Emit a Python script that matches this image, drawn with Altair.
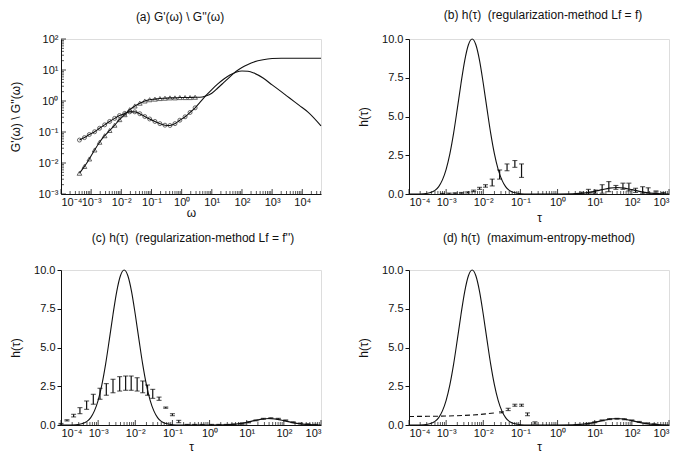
import json
import altair as alt
import numpy as np
import pandas as pd

FONT = "Liberation Sans"
INK = "#111111"

# ---------------- panel (a): G'(w), G''(w) ----------------
OMEGA_MARK = [4.1e-4, 6.0e-4, 8.7e-4, 1.3e-3, 1.9e-3, 2.8e-3, 4.1e-3, 6.0e-3, 8.7e-3,
              1.3e-2, 1.9e-2, 2.8e-2, 4.1e-2, 6.0e-2, 8.7e-2, 0.13, 0.19, 0.28, 0.41,
              0.60, 0.87, 1.3, 1.9, 2.8]
G1_MARK = [0.00468, 0.00776, 0.0135, 0.0263, 0.0468, 0.0759, 0.112, 0.166, 0.251,
           0.363, 0.525, 0.692, 0.851, 1.0, 1.10, 1.15, 1.20, 1.23, 1.26, 1.26,
           1.29, 1.29, 1.29, 1.32]
G2_MARK = [0.055, 0.066, 0.083, 0.102, 0.132, 0.170, 0.219, 0.275, 0.339, 0.398,
           0.447, 0.447, 0.389, 0.316, 0.263, 0.219, 0.186, 0.166, 0.162, 0.186,
           0.240, 0.309, 0.427, 0.603]
OMEGA_EXT = [3.98, 6.31, 10.0, 15.8, 25.1, 39.8, 63.1, 100, 158, 251, 501, 1000,
             2000, 3980, 7940, 15800, 41700]
G1_EXT = [1.32, 1.45, 1.78, 2.63, 3.98, 6.03, 8.91, 12.0, 15.1, 18.2, 21.4, 23.4,
          24.0, 24.0, 24.0, 24.0, 24.0]
G2_EXT = [0.89, 1.48, 2.34, 3.55, 5.13, 6.92, 8.51, 9.33, 9.12, 7.94, 5.50, 3.31,
          2.0, 1.20, 0.72, 0.43, 0.158]
OMEGA_DOMAIN = [1e-4, 4.17e4]
G_DOMAIN = [1e-3, 1e2]
OMEGA_DECADES = [1e-4, 1e-3, 1e-2, 1e-1, 1e0, 1e1, 1e2, 1e3, 1e4]
OMEGA_LABELS = ["10⁻⁴", "10⁻³", "10⁻²", "10⁻¹", "10⁰", "10¹", "10²", "10³", "10⁴"]
G_DECADES = [1e-3, 1e-2, 1e-1, 1e0, 1e1, 1e2]
G_LABELS = ["10⁻³", "10⁻²", "10⁻¹", "10⁰", "10¹", "10²"]

# ---------------- true spectrum h(tau) ----------------
LOGTAU_TRUE = [-4.0, -3.8, -3.6, -3.5, -3.4, -3.3, -3.2, -3.1, -3.0, -2.9, -2.8, -2.7,
               -2.6, -2.5, -2.4, -2.3, -2.2, -2.1, -2.0, -1.9, -1.8, -1.7, -1.6, -1.5,
               -1.4, -1.3, -1.2, -1.0, -0.8, 0.0, 0.4, 0.6, 0.8, 1.0, 1.2, 1.4, 1.6,
               1.8, 2.0, 2.2, 2.4, 2.6, 2.8, 3.0]
H_TRUE = [0.0, 0.0, 0.02, 0.05, 0.11, 0.23, 0.48, 0.91, 1.59, 2.59, 3.91, 5.49,
          7.13, 8.61, 9.63, 10.0, 9.63, 8.61, 7.13, 5.49, 3.91, 2.59, 1.59, 0.91,
          0.48, 0.23, 0.11, 0.02, 0.0, 0.0, 0.01, 0.04, 0.09, 0.17, 0.28, 0.38, 0.42,
          0.38, 0.28, 0.17, 0.09, 0.04, 0.01, 0.0]
TAU_DOMAIN = [1e-4, 1e3]
TAU_DECADES = [1e-4, 1e-3, 1e-2, 1e-1, 1e0, 1e1, 1e2, 1e3]
TAU_LABELS = ["10⁻⁴", "10⁻³", "10⁻²", "10⁻¹", "10⁰", "10¹", "10²", "10³"]
H_TICKS = [0, 2.5, 5, 7.5, 10]

# (b) regularization Lf = f
B_LOGTAU = [-3.1, -2.92, -2.76, -2.59, -2.42, -2.26, -2.10, -1.94, -1.76, -1.56, -1.36,
            -1.15, -0.97, 0.65, 0.83, 1.02, 1.2, 1.38, 1.57, 1.76, 1.92, 2.1, 2.29,
            2.44, 2.65, 2.85]
B_LO = [0.0, 0.0, 0.02, 0.04, 0.06, 0.15, 0.30, 0.44, 0.52, 0.96, 1.50, 1.72, 1.07,
        0.0, 0.0, 0.05, 0.05, 0.15, 0.3, 0.3, 0.2, 0.1, 0.05, 0.05, 0.0, 0.0]
B_HI = [0.04, 0.06, 0.08, 0.10, 0.14, 0.25, 0.43, 0.60, 0.96, 1.55, 1.94, 2.16, 1.94,
        0.12, 0.3, 0.25, 0.6, 0.8, 0.55, 0.7, 0.7, 0.37, 0.47, 0.4, 0.2, 0.1]

# (c) regularization Lf = f''
C_LOGTAU = [-4.0, -3.84, -3.66, -3.49, -3.31, -3.13, -2.95, -2.78, -2.6, -2.42, -2.26,
            -2.11, -1.95, -1.8, -1.67, -1.53, -1.36, -1.18, -1.0, -0.83,
            -0.6, -0.4, -0.2, 0.05, 0.25, 0.45, 0.65, 0.85, 1.05, 1.25, 1.45, 1.65,
            1.85, 2.05, 2.25, 2.45, 2.65, 2.85]
C_LO = [0.0, 0.26, 0.52, 0.73, 1.01, 1.34, 1.66, 1.92, 2.08, 2.19, 2.24, 2.24, 2.19,
        2.08, 1.92, 1.72, 1.59, 1.08, 0.60, 0.15,
        0.0, 0.0, 0.0, 0.0, 0.0, 0.0, 0.0, 0.05, 0.14, 0.27, 0.37, 0.41, 0.37, 0.27,
        0.15, 0.07, 0.02, 0.0]
C_HI = [0.1, 0.34, 0.69, 1.12, 1.55, 1.98, 2.37, 2.67, 2.95, 3.12, 3.16, 3.16, 3.05,
        2.84, 2.58, 2.30, 1.80, 1.16, 0.73, 0.30,
        0.04, 0.04, 0.04, 0.04, 0.04, 0.04, 0.06, 0.11, 0.20, 0.33, 0.43, 0.47, 0.43,
        0.33, 0.21, 0.13, 0.08, 0.05]

# (d) maximum entropy
D_DASH_LOGTAU = [-4.0, -3.5, -3.0, -2.5, -2.0, -1.7]
D_DASH_H = [0.55, 0.56, 0.58, 0.62, 0.70, 0.78]
D_LOGTAU = [-1.51, -1.33, -1.15, -0.97, -0.81, -0.61, 0.8, 1.0, 1.2, 1.4, 1.6, 1.8,
            2.0, 2.2, 2.4, 2.6]
D_LO = [0.78, 0.93, 1.21, 1.21, 0.60, 0.06, 0.05, 0.15, 0.27, 0.35, 0.37, 0.34, 0.27,
        0.17, 0.08, 0.02]
D_HI = [0.86, 1.08, 1.34, 1.34, 0.78, 0.20, 0.11, 0.21, 0.33, 0.41, 0.43, 0.40, 0.33,
        0.23, 0.14, 0.08]

W, H = 260, 155


def label_expr(labels, offset):
    return f"{json.dumps(labels, ensure_ascii=False)}[round(log(datum.value)/LN10)+{offset}]"


def minor_ticks(decades, hi):
    return [m * d for d in decades for m in range(2, 10) if m * d <= hi]


def x_axis(values, labels, offset, title, title_y):
    return alt.Axis(values=values, labelExpr=label_expr(labels, offset), ticks=False,
                    grid=False, domainColor=INK, domainWidth=1, labelFont=FONT,
                    labelFontSize=11, labelColor=INK, labelPadding=2, labelOverlap=False,
                    title=title, titleFont=FONT, titleFontSize=12, titleFontWeight="normal",
                    titleColor=INK, titleY=title_y, titleBaseline="top")


def y_axis_h():
    return alt.Axis(values=H_TICKS, format=".1f", ticks=True, tickSize=4, tickColor=INK,
                    grid=False, domainColor=INK, domainWidth=1, labelFont=FONT,
                    labelFontSize=11, labelColor=INK, labelPadding=2, title="h(τ)",
                    titleFont=FONT, titleFontSize=12, titleFontWeight="normal",
                    titleColor=INK, titleX=-46, titleBaseline="middle")


def x_tick_layers(X, decades, minors):
    maj = alt.Chart(pd.DataFrame({"x": decades})).mark_rule(color=INK, strokeWidth=0.8).encode(
        x=X, y=alt.value(H), y2=alt.value(H - 5))
    mnr = alt.Chart(pd.DataFrame({"x": minors})).mark_rule(color=INK, strokeWidth=0.7).encode(
        x=X, y=alt.value(H), y2=alt.value(H - 3))
    return [maj, mnr]


def error_layers(X, yscale, yaxis, logtau, lo, hi):
    df = pd.DataFrame({"x": 10 ** np.array(logtau), "lo": lo, "hi": hi})
    ylo = alt.Y("lo:Q", scale=yscale, axis=yaxis)
    yhi = alt.Y("hi:Q", scale=yscale, axis=yaxis)
    rule = alt.Chart(df).mark_rule(color=INK, strokeWidth=1.2).encode(x=X, y=ylo, y2="hi:Q")
    c1 = alt.Chart(df).mark_tick(orient="horizontal", size=5, thickness=1.1, color=INK).encode(x=X, y=ylo)
    c2 = alt.Chart(df).mark_tick(orient="horizontal", size=5, thickness=1.1, color=INK).encode(x=X, y=yhi)
    return [rule, c1, c2]


def title(text, offset, dx=0):
    return alt.TitleParams(text=text, font=FONT, fontSize=12, fontWeight="normal",
                           color=INK, offset=offset, dx=dx, anchor="middle", frame="group")


# ---------- panel (a) ----------
xs_a = alt.Scale(type="log", domain=OMEGA_DOMAIN, nice=False)
ys_a = alt.Scale(type="log", domain=G_DOMAIN, nice=False)
Xa = alt.X("x:Q", scale=xs_a, axis=x_axis(OMEGA_DECADES, OMEGA_LABELS, 4, "ω", 13))
ya_axis = alt.Axis(values=G_DECADES, labelExpr=label_expr(G_LABELS, 3), ticks=False, grid=False,
                   domainColor=INK, domainWidth=1, labelFont=FONT, labelFontSize=11,
                   labelColor=INK, labelPadding=3, labelOverlap=False,
                   title="G'(ω) \\ G''(ω)", titleFont=FONT, titleFontSize=12,
                   titleFontWeight="normal", titleColor=INK, titleX=-46, titleBaseline="middle")
Ya = alt.Y("y:Q", scale=ys_a, axis=ya_axis)

g1_line = pd.DataFrame({"x": OMEGA_MARK + OMEGA_EXT, "y": G1_MARK + G1_EXT})
g2_line = pd.DataFrame({"x": OMEGA_MARK + OMEGA_EXT, "y": G2_MARK + G2_EXT})
g1_pts = pd.DataFrame({"x": OMEGA_MARK, "y": G1_MARK})
g2_pts = pd.DataFrame({"x": OMEGA_MARK, "y": G2_MARK})

a_layers = [
    alt.Chart(g1_line).mark_line(color=INK, strokeWidth=1.1, interpolate="monotone").encode(x=Xa, y=Ya),
    alt.Chart(g2_line).mark_line(color=INK, strokeWidth=1.1, interpolate="monotone").encode(x=Xa, y=Ya),
    alt.Chart(g2_pts).mark_point(shape="circle", size=16, filled=False, color=INK, strokeWidth=0.9).encode(x=Xa, y=Ya),
    alt.Chart(g1_pts).mark_point(shape="triangle-up", size=22, filled=False, color=INK, strokeWidth=0.9).encode(x=Xa, y=Ya),
]
a_layers += x_tick_layers(Xa, OMEGA_DECADES, minor_ticks(OMEGA_DECADES, OMEGA_DOMAIN[1]))
a_layers += [
    alt.Chart(pd.DataFrame({"y": G_DECADES})).mark_rule(color=INK, strokeWidth=0.8).encode(
        y=Ya, x=alt.value(0), x2=alt.value(5)),
    alt.Chart(pd.DataFrame({"y": minor_ticks(G_DECADES[:-1], 100)})).mark_rule(color=INK, strokeWidth=0.7).encode(
        y=Ya, x=alt.value(0), x2=alt.value(3)),
]
panel_a = alt.layer(*a_layers).properties(width=W, height=H, title=title("(a) G'(ω) \\ G''(ω)", 9, -11))


# ---------- h(tau) panels ----------
def h_panel(ttl, toff, title_y, extra, dx=0):
    xs = alt.Scale(type="log", domain=TAU_DOMAIN, nice=False)
    ys = alt.Scale(domain=[0, 10], nice=False)
    X = alt.X("x:Q", scale=xs, axis=x_axis(TAU_DECADES, TAU_LABELS, 4, "τ", title_y))
    yax = y_axis_h()
    Y = alt.Y("y:Q", scale=ys, axis=yax)
    true_df = pd.DataFrame({"x": 10 ** np.array(LOGTAU_TRUE), "y": H_TRUE})
    layers = [alt.Chart(true_df).mark_line(color=INK, strokeWidth=1.1, interpolate="monotone").encode(x=X, y=Y)]
    for kind, args in extra:
        if kind == "bars":
            layers += error_layers(X, ys, yax, *args)
        elif kind == "dash":
            ddf = pd.DataFrame({"x": 10 ** np.array(args[0]), "y": args[1]})
            layers.append(alt.Chart(ddf).mark_line(color=INK, strokeWidth=1.1, strokeDash=[5, 3],
                                                   interpolate="monotone").encode(x=X, y=Y))
    layers += x_tick_layers(X, TAU_DECADES, minor_ticks(TAU_DECADES, TAU_DOMAIN[1]))
    return alt.layer(*layers).properties(width=W, height=H, title=title(ttl, toff, dx))


panel_b = h_panel("(b) h(τ)\u00a0\u00a0(regularization-method Lf = f)", 11, 18,
                  [("bars", (B_LOGTAU, B_LO, B_HI))], 4)
panel_c = h_panel("(c) h(τ)\u00a0\u00a0(regularization-method Lf = f'')", 19, 16,
                  [("bars", (C_LOGTAU, C_LO, C_HI))], 2)
panel_d = h_panel("(d) h(τ)\u00a0\u00a0(maximum-entropy-method)", 19, 16,
                  [("dash", (D_DASH_LOGTAU, D_DASH_H)), ("bars", (D_LOGTAU, D_LO, D_HI))])

chart = alt.concat(panel_a, panel_b, panel_c, panel_d, columns=2,
                   spacing={"row": 76, "column": 88}, bounds="flush").properties(
    padding={"left": 0, "top": 0, "right": 0, "bottom": 0}
).configure_view(stroke=None).configure(background="white")

chart.save("out.html", embed_options={"renderer": "svg", "actions": False})
